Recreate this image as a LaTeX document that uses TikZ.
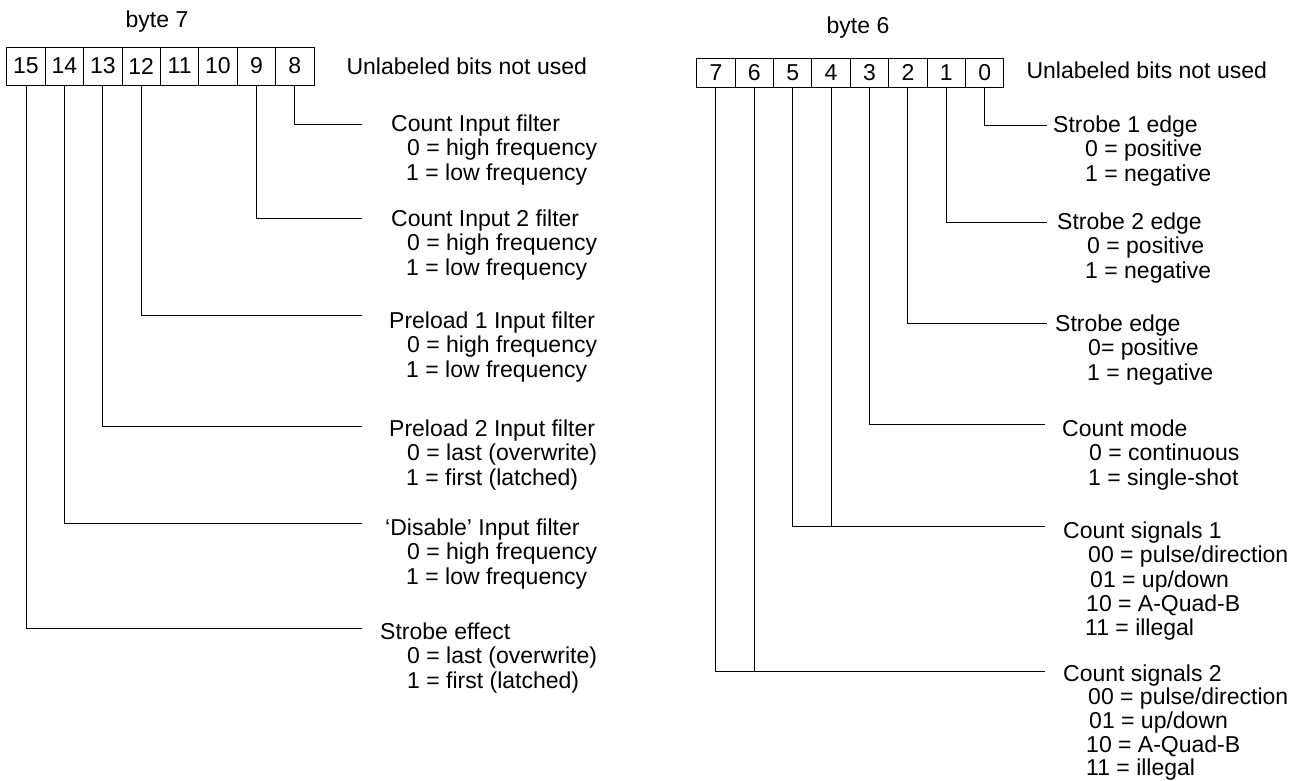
\documentclass[tikz,border=0pt]{standalone}
\usepackage{fontspec}
\setmainfont{Liberation Sans}
\tikzset{
  bitcell/.style={draw, line width=0.9pt, minimum width=38.4pt, inner sep=0pt},
  field/.style={anchor=north west, inner sep=0pt, align=left},
  lead/.style={line width=0.9pt}
}
\begin{document}
\begin{tikzpicture}[x=1pt, y=-1pt, font=\fontsize{23}{24.3}\selectfont]
\useasboundingbox (0,0) rectangle (1314,780);

% byte 7
\node[anchor=base] (byte7) at (157,27) {byte 7};
\node[bitcell, minimum height=38pt] (b15) at (26.0,66) {15};
\node[bitcell, minimum height=38pt] (b14) at (64.4,66) {14};
\node[bitcell, minimum height=38pt] (b13) at (102.8,66) {13};
\node[bitcell, minimum height=38pt] (b12) at (141.2,66) {12};
\node[bitcell, minimum height=38pt] (b11) at (179.6,66) {11};
\node[bitcell, minimum height=38pt] (b10) at (218.0,66) {10};
\node[bitcell, minimum height=38pt] (b9) at (256.4,66) {9};
\node[bitcell, minimum height=38pt] (b8) at (294.8,66) {8};
\node[anchor=west] (unused7) at (343,66) {Unlabeled bits not used};

\coordinate (e8) at (362,124);
\coordinate (e9) at (362,218);
\coordinate (e12) at (362,315);
\coordinate (e13) at (362,426);
\coordinate (e14) at (362,523);
\coordinate (e15) at (362,628);
\draw[lead] (b8.south) |- (e8);
\draw[lead] (b9.south) |- (e9);
\draw[lead] (b12.south) |- (e12);
\draw[lead] (b13.south) |- (e13);
\draw[lead] (b14.south) |- (e14);
\draw[lead] (b15.south) |- (e15);

\node[field] (cntin) at (391,114.7) {Count Input filter\\\hspace*{16pt}0 = high frequency\\\hspace*{15pt}1 = low frequency};
\node[field] (cntin2) at (391,209.7) {Count Input 2 filter\\\hspace*{16pt}0 = high frequency\\\hspace*{15pt}1 = low frequency};
\node[field] (pre1) at (389,311.7) {Preload 1 Input filter\\\hspace*{18pt}0 = high frequency\\\hspace*{17pt}1 = low frequency};
\node[field] (pre2) at (389,419.7) {Preload 2 Input filter\\\hspace*{18pt}0 = last (overwrite)\\\hspace*{17pt}1 = first (latched)};
\node[field] (disable) at (385,518.7) {`Disable' Input filter\\\hspace*{22pt}0 = high frequency\\\hspace*{21pt}1 = low frequency};
\node[field] (strobeeff) at (380,622.7) {Strobe effect\\\hspace*{27pt}0 = last (overwrite)\\\hspace*{27pt}1 = first (latched)};

% byte 6
\node[anchor=base] (byte6) at (858,33) {byte 6};
\node[bitcell, minimum height=29pt] (b7) at (715.9,72.5) {7};
\node[bitcell, minimum height=29pt] (b6) at (754.3,72.5) {6};
\node[bitcell, minimum height=29pt] (b5) at (792.7,72.5) {5};
\node[bitcell, minimum height=29pt] (b4) at (831.1,72.5) {4};
\node[bitcell, minimum height=29pt] (b3) at (869.5,72.5) {3};
\node[bitcell, minimum height=29pt] (b2) at (907.9,72.5) {2};
\node[bitcell, minimum height=29pt] (b1) at (946.3,72.5) {1};
\node[bitcell, minimum height=29pt] (b0) at (984.7,72.5) {0};
\node[anchor=west] (unused6) at (1023,70) {Unlabeled bits not used};

\coordinate (e0) at (1047,125);
\coordinate (e1) at (1047,222);
\coordinate (e2) at (1047,323);
\coordinate (e3) at (1045,424);
\coordinate (e45) at (1045,526);
\coordinate (e67) at (1045,671);
\draw[lead] (b0.south) |- (e0);
\draw[lead] (b1.south) |- (e1);
\draw[lead] (b2.south) |- (e2);
\draw[lead] (b3.south) |- (e3);
\draw[lead] (b5.south) |- (e45);
\draw[lead] (b4.south) -- (b4.south |- e45);
\draw[lead] (b7.south) |- (e67);
\draw[lead] (b6.south) -- (b6.south |- e67);

\node[field] (strobe1) at (1053,115.7) {Strobe 1 edge\\\hspace*{32pt}0 = positive\\\hspace*{32pt}1 = negative};
\node[field] (strobe2) at (1057,212.7) {Strobe 2 edge\\\hspace*{30pt}0 = positive\\\hspace*{28pt}1 = negative};
\node[field] (strobe) at (1055,314.7) {Strobe edge\\\hspace*{33pt}0= positive\\\hspace*{32pt}1 = negative};
\node[field] (cntmode) at (1062,419.7) {Count mode\\\hspace*{27pt}0 = continuous\\\hspace*{26pt}1 = single-shot};
\node[field] (cntsig1) at (1063,521.7) {Count signals 1\\\hspace*{25pt}00 = pulse/direction\\\hspace*{27pt}01 = up/down\\\hspace*{23pt}10 = A-Quad-B\\\hspace*{22pt}11 = illegal};
\node[field, font=\fontsize{23}{23.6}\selectfont] (cntsig2) at (1063,664.5) {Count signals 2\\\hspace*{25pt}00 = pulse/direction\\\hspace*{26pt}01 = up/down\\\hspace*{23pt}10 = A-Quad-B\\\hspace*{23pt}11 = illegal};
\end{tikzpicture}
\end{document}
